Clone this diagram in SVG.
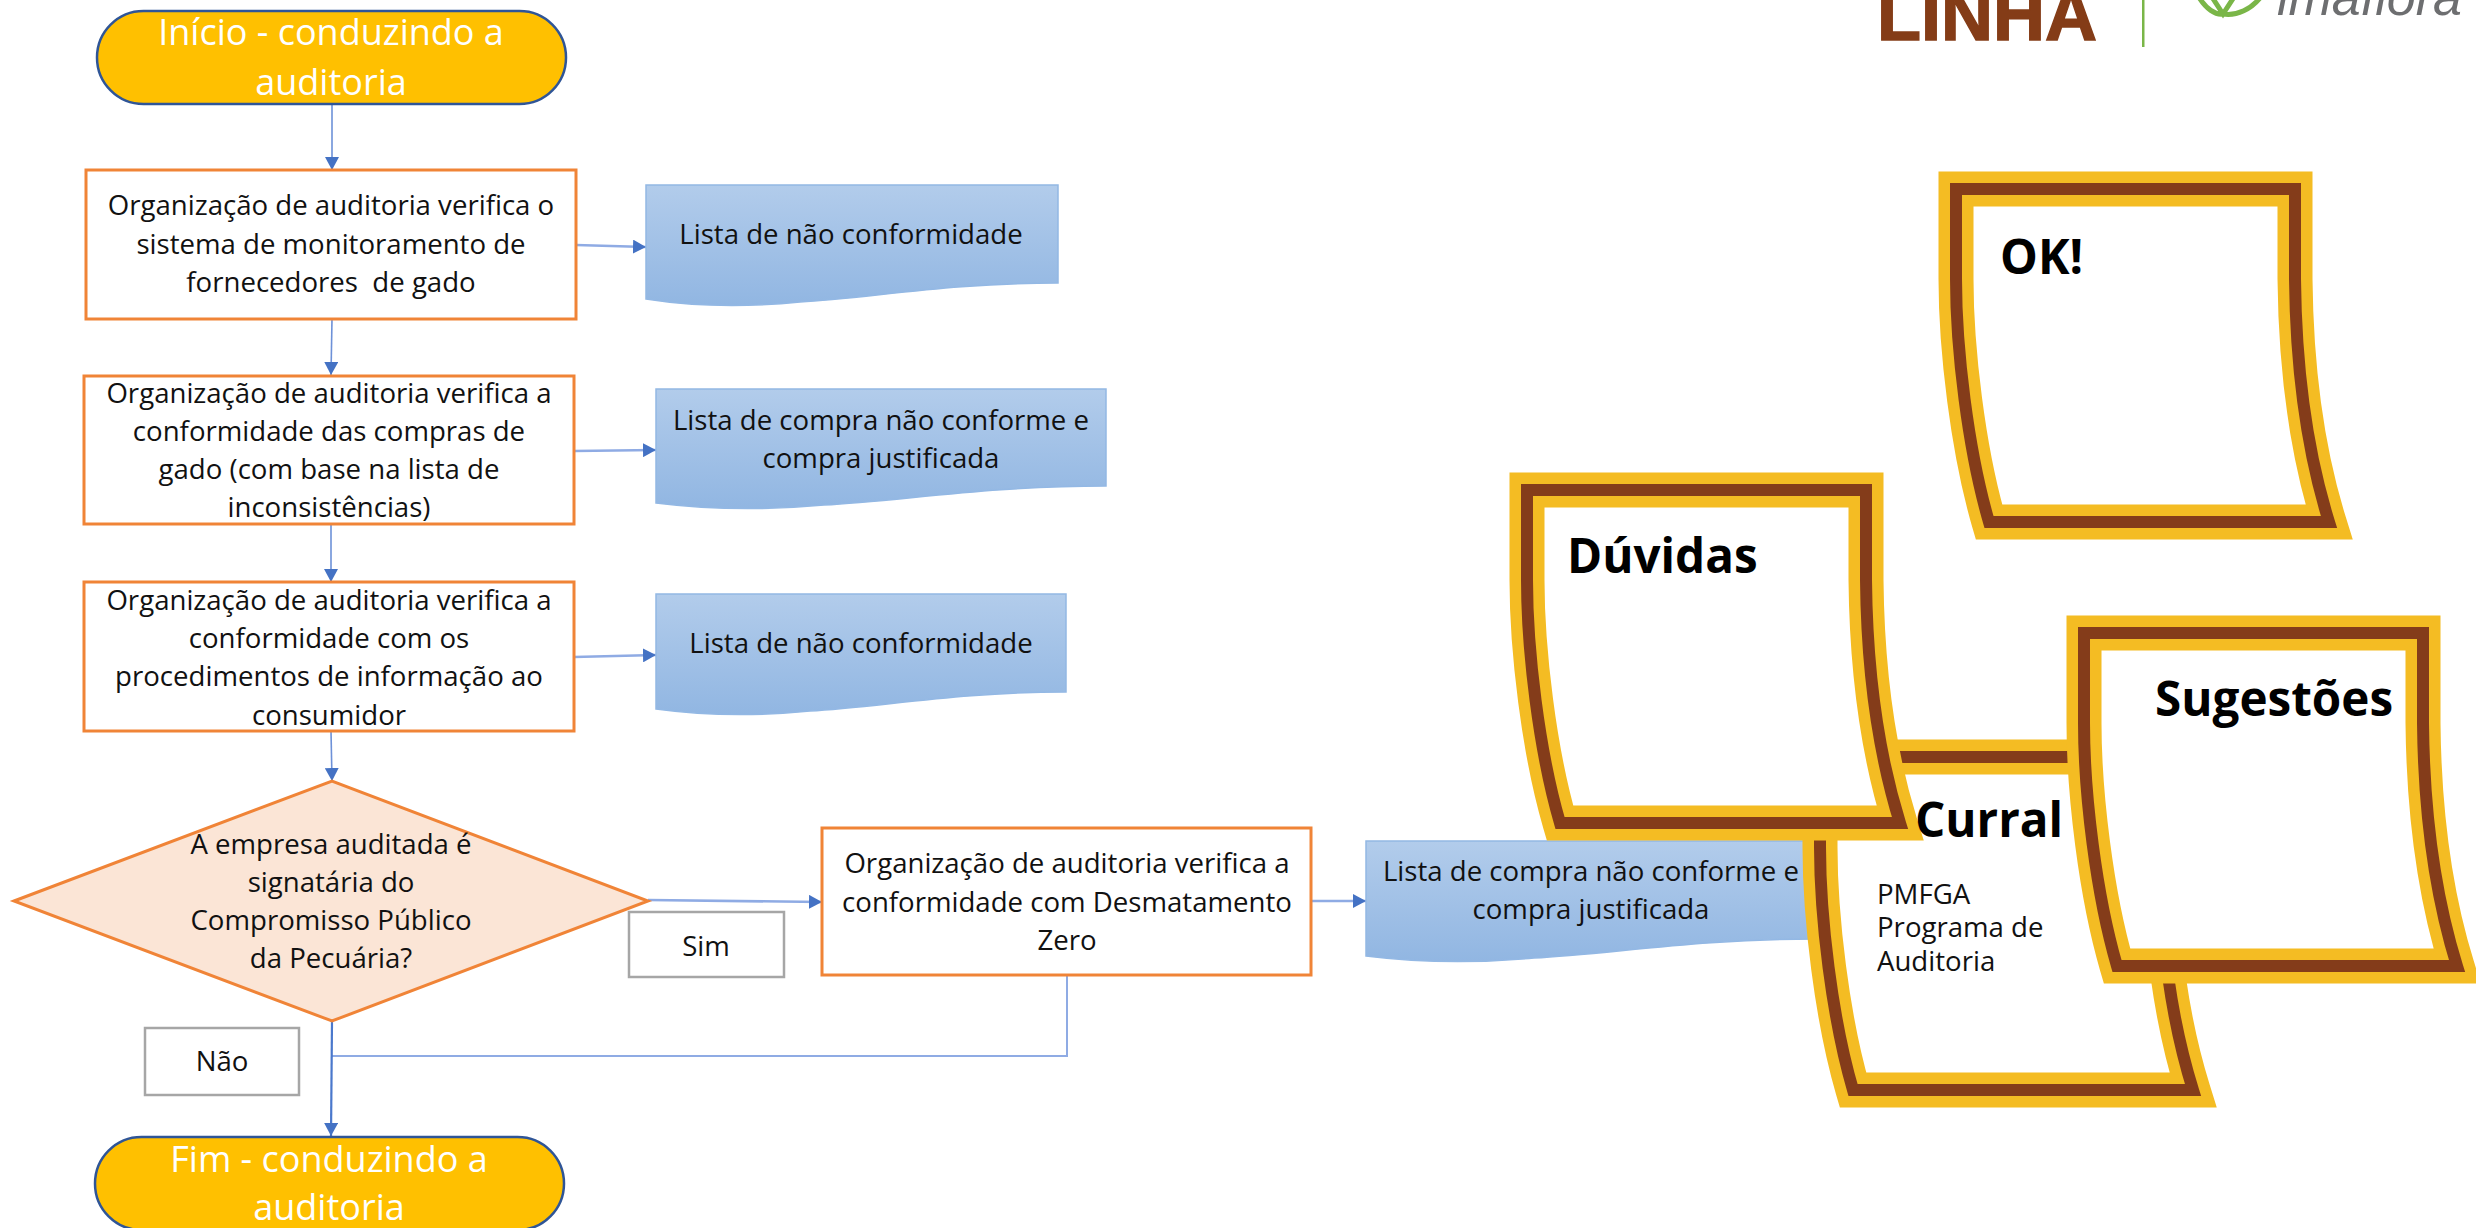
<svg xmlns="http://www.w3.org/2000/svg" width="2476" height="1228" viewBox="0 0 2476 1228">
<style>
text{font-family:"Open Sans","Noto Sans","DejaVu Sans",sans-serif;fill:#111;white-space:pre}
.t{font-size:27.6px;text-anchor:middle}
.w{font-size:36px;text-anchor:middle;fill:#fff}
.h{font-size:47.6px;font-weight:700;fill:#000}
.term{fill:#ffc000;stroke:#2f5597;stroke-width:2.5}
.box{fill:#fff;stroke:#f08437;stroke-width:3}
.gray{fill:#fff;stroke:#a6a6a6;stroke-width:2.5}
.doc{fill:url(#dg);stroke:#93b8e4;stroke-width:1.5}
.c{fill:none;stroke:#8fabe4;stroke-width:2}
.cv{fill:none;stroke:#6d91d8;stroke-width:1.6;marker-end:url(#ah)}
.ch{fill:none;stroke:#8fabe4;stroke-width:2.6;marker-end:url(#ah)}
.cd{fill:none;stroke:#4a78cc;stroke-width:2.2;marker-end:url(#ah)}
.y{fill:#fff;stroke:#f4bc23;stroke-width:35;stroke-miterlimit:10}
.b{fill:none;stroke:#843c1a;stroke-width:12;stroke-miterlimit:10}
</style>
<defs>
<linearGradient id="dg" x1="0" y1="0" x2="0" y2="1"><stop offset="0" stop-color="#b2cceb"/><stop offset="1" stop-color="#91b6e2"/></linearGradient>
<marker id="ah" markerUnits="userSpaceOnUse" markerWidth="14" markerHeight="14" refX="13" refY="7" orient="auto"><path d="M0 0L13 7L0 14Z" fill="#4472c4"/></marker>
<path id="note" d="M0 0H339V90C340 190 354 272 373 333H33C12 261 0 160 0 90Z"/>
</defs>
<rect width="2476" height="1228" fill="#fff"/>

<g id="logo">
<text x="1877" y="40" style="font-family:'Liberation Sans',sans-serif;font-weight:700;font-size:72px;fill:#843c17;stroke:#843c17;stroke-width:1.5">LINHA</text>
<rect x="2142" y="0" width="2.5" height="47" fill="#7ab648"/>
<path d="M2197 -6C2206 10 2216 15 2223 14C2236 16 2252 10 2263 -6M2210 -6L2223 14L2236 -6" fill="none" stroke="#7ab648" stroke-width="5"/>
<text x="2277" y="15" style="font-family:'Liberation Sans',sans-serif;font-style:italic;font-size:52px;fill:#6d6e70">imaflora</text>
</g>

<g id="connectors">
<path class="cv" d="M332 104V170"/>
<path class="cv" d="M332 319L331 375"/>
<path class="cv" d="M331 524V582"/>
<path class="cv" d="M331 731L332 781"/>
<path class="ch" d="M576 245L646 247"/>
<path class="ch" d="M574 451L656 450"/>
<path class="ch" d="M574 657L656 655"/>
<path class="ch" d="M648 900L822 902"/>
<path class="ch" d="M1311 901H1366"/>
<path class="c" d="M1067 975V1056H331"/>
<path class="cd" d="M332 1021L331 1136"/>
</g>

<g id="start"><rect class="term" x="97" y="11" width="469" height="93" rx="46.5"/><text class="w" x="331" y="45">Início - conduzindo a</text><text class="w" x="331" y="95">auditoria</text></g>

<g id="step1"><rect class="box" x="86" y="170" width="490" height="149"/><text class="t" x="331" y="215">Organização de auditoria verifica o</text><text class="t" x="331" y="254">sistema de monitoramento de</text><text class="t" x="331" y="292">fornecedores  de gado</text></g>

<g id="doc1"><path class="doc" d="M646 185H1058V283C950 283 870 298 800 302C740 308 690 306 646 299Z"/><text class="t" x="851" y="244">Lista de não conformidade</text></g>

<g id="step2"><rect class="box" x="84" y="376" width="490" height="148"/><text class="t" x="329" y="403">Organização de auditoria verifica a</text><text class="t" x="329" y="441">conformidade das compras de</text><text class="t" x="329" y="479">gado (com base na lista de</text><text class="t" x="329" y="517">inconsistências)</text></g>

<g id="doc2"><path class="doc" d="M656 389H1106V486C988 486 901 501 824 505C759 511 704 509 656 503Z"/><text class="t" x="881" y="430">Lista de compra não conforme e</text><text class="t" x="881" y="468">compra justificada</text></g>

<g id="step3"><rect class="box" x="84" y="582" width="490" height="149"/><text class="t" x="329" y="610">Organização de auditoria verifica a</text><text class="t" x="329" y="648">conformidade com os</text><text class="t" x="329" y="686">procedimentos de informação ao</text><text class="t" x="329" y="725">consumidor</text></g>

<g id="doc3"><path class="doc" d="M656 594H1066V692C960 692 880 707 810 711C750 717 700 715 656 709Z"/><text class="t" x="861" y="653">Lista de não conformidade</text></g>

<g id="decision"><path d="M14 901L332 781L648 901L332 1021Z" fill="#fbe5d6" stroke="#f08437" stroke-width="3"/><text class="t" x="331" y="854">A empresa auditada é</text><text class="t" x="331" y="892">signatária do</text><text class="t" x="331" y="930">Compromisso Público</text><text class="t" x="331" y="968">da Pecuária?</text></g>

<g id="sim"><rect class="gray" x="629" y="912" width="155" height="65"/><text class="t" x="706" y="956">Sim</text></g>
<g id="nao"><rect class="gray" x="145" y="1028" width="154" height="67"/><text class="t" x="222" y="1071">Não</text></g>

<g id="step4"><rect class="box" x="822" y="828" width="489" height="147"/><text class="t" x="1067" y="873">Organização de auditoria verifica a</text><text class="t" x="1067" y="912">conformidade com Desmatamento</text><text class="t" x="1067" y="950">Zero</text></g>

<g id="doc4"><path class="doc" d="M1366 841H1816V939C1698 939 1611 954 1534 958C1469 964 1414 962 1366 956Z"/><text class="t" x="1591" y="881">Lista de compra não conforme e</text><text class="t" x="1591" y="919">compra justificada</text></g>

<g id="end"><rect class="term" x="95" y="1137" width="469" height="93" rx="46.5"/><text class="w" x="329" y="1172">Fim - conduzindo a</text><text class="w" x="329" y="1220">auditoria</text></g>

<g id="note-ok"><use href="#note" x="1956" y="189" class="y"/><use href="#note" x="1956" y="189" class="b"/><text class="h" x="2000" y="274">OK!</text></g>
<g id="note-curral"><use href="#note" x="1820" y="757" class="y"/><use href="#note" x="1820" y="757" class="b"/><text x="1877" y="904" style="font-size:27.6px">PMFGA</text><text x="1877" y="937" style="font-size:27.6px">Programa de</text><text x="1877" y="971" style="font-size:27.6px">Auditoria</text></g>
<g id="note-duvidas"><use href="#note" x="1527" y="490" class="y"/><use href="#note" x="1527" y="490" class="b"/><text class="h" x="1567" y="573">Dúvidas</text></g>
<g id="note-sugestoes"><use href="#note" x="2084" y="633" class="y"/><use href="#note" x="2084" y="633" class="b"/><text class="h" x="2155" y="716">Sugestões</text></g>
<text class="h" x="1915" y="837">Curral</text>
</svg>
